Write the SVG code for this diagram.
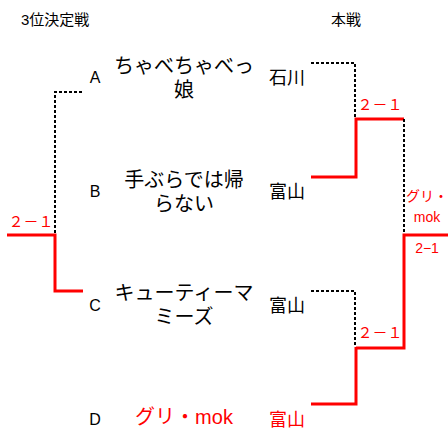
<svg xmlns="http://www.w3.org/2000/svg" width="448" height="430" viewBox="0 0 448 430">
<style>
text{font-family:"Liberation Sans","Noto Sans CJK JP",sans-serif;fill:#000}
.red{fill:#ff0000}
.jp{font-family:"Noto Sans CJK JP",sans-serif}
.team{font-size:20px;text-anchor:middle}
.letter{font-size:16px;text-anchor:middle}
.pref{font-size:18px}
.score{font-size:15px;text-anchor:middle}
.win{fill:none;stroke:#ff0000;stroke-width:3}
.lose{fill:none;stroke:#000;stroke-width:2;stroke-dasharray:3,2}
</style>
<rect width="448" height="430" fill="#fff"/>
<g id="titles">
<text x="21" y="25" style="font-size:15px">3位決定戦</text>
<text x="331" y="25" style="font-size:15px">本戦</text>
</g>
<g id="connectors">
<polyline class="lose" points="82,92 55,92 55,234"/>
<polyline class="win" points="7,235 55,235 55,291 83,291"/>
<polyline class="lose" points="311,63 355,63 355,119"/>
<polyline class="win" points="311,177 356,177 356,119 404,119"/>
<polyline class="lose" points="404,119 404,234"/>
<polyline class="win" points="448,235 404,235 404,348 356,348"/>
<polyline class="lose" points="311,291 355,291 355,347"/>
<polyline class="win" points="311,404 356,404 356,347"/>
</g>
<g id="nodeA">
<text class="letter" x="95" y="83">A</text>
<text class="team jp"><tspan x="184" y="73">ちゃべちゃべっ</tspan><tspan x="184" y="97">娘</tspan></text>
<text class="pref jp" x="269" y="84">石川</text>
</g>
<g id="nodeB">
<text class="letter" x="95" y="197">B</text>
<text class="team jp"><tspan x="184" y="187">手ぶらでは帰</tspan><tspan x="184" y="211">らない</tspan></text>
<text class="pref jp" x="269" y="198">富山</text>
</g>
<g id="nodeC">
<text class="letter" x="95" y="311">C</text>
<text class="team jp"><tspan x="184" y="300">キューティーマ</tspan><tspan x="184" y="324">ミーズ</tspan></text>
<text class="pref jp" x="269" y="312">富山</text>
</g>
<g id="nodeD">
<text class="letter" x="95" y="425">D</text>
<text class="team red" x="184" y="424">グリ・mok</text>
<text class="pref jp red" x="269" y="426">富山</text>
</g>
<g id="scores">
<text class="score jp red" x="31" y="227">２－１</text>
<text class="score jp red" x="380" y="110">２－１</text>
<text class="score jp red" x="380" y="338">２－１</text>
<text class="red" style="font-size:14px;text-anchor:middle"><tspan x="427" y="201">グリ・</tspan><tspan x="427" y="222">mok</tspan></text>
<text class="red" x="427" y="253" style="font-size:14px;text-anchor:middle">2−1</text>
</g>
</svg>
